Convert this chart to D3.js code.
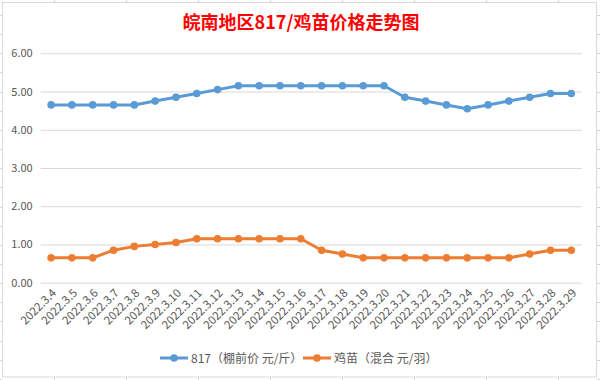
<!DOCTYPE html>
<html><head><meta charset="utf-8">
<script src="https://cdn.jsdelivr.net/npm/d3@7"></script>
<style>html,body{margin:0;padding:0;background:#fff;overflow:hidden}</style>
</head><body>
<script>
const categories = ["2022.3.4","2022.3.5","2022.3.6","2022.3.7","2022.3.8","2022.3.9","2022.3.10","2022.3.11","2022.3.12","2022.3.13","2022.3.14","2022.3.15","2022.3.16","2022.3.17","2022.3.18","2022.3.19","2022.3.20","2022.3.21","2022.3.22","2022.3.23","2022.3.24","2022.3.25","2022.3.26","2022.3.27","2022.3.28","2022.3.29"];
const price817 = [4.65,4.65,4.65,4.65,4.65,4.75,4.85,4.95,5.05,5.15,5.15,5.15,5.15,5.15,5.15,5.15,5.15,4.85,4.75,4.65,4.55,4.65,4.75,4.85,4.95,4.95];
const chickPrice = [0.65,0.65,0.65,0.85,0.95,1.0,1.05,1.15,1.15,1.15,1.15,1.15,1.15,0.85,0.75,0.65,0.65,0.65,0.65,0.65,0.65,0.65,0.65,0.75,0.85,0.85];
const yTicks = [0,1,2,3,4,5,6];
const seriesNames = ["817（棚前价 元/斤）","鸡苗（混合 元/羽）"];
const colors = ["#5b9bd5","#ed7d31"];
const title = "皖南地区817/鸡苗价格走势图";

const W = 600, H = 380;
const svg = d3.select("body").append("svg").attr("width", W).attr("height", H);
const font = "'Noto Sans CJK SC','Noto Sans',sans-serif";

// spreadsheet grid peeking outside chart frame
const sheet = svg.append("g").attr("stroke", "#d4d4d4").attr("stroke-width", 1);
for (let x = 54; x < W; x += 72) {
  sheet.append("line").attr("x1", x + 0.5).attr("x2", x + 0.5).attr("y1", 0).attr("y2", 2);
  sheet.append("line").attr("x1", x + 0.5).attr("x2", x + 0.5).attr("y1", 377).attr("y2", H);
}
for (let y = 15; y < H; y += 19.15) {
  const yy = Math.round(y) + 0.5;
  sheet.append("line").attr("x1", 0).attr("x2", 2).attr("y1", yy).attr("y2", yy);
  sheet.append("line").attr("x1", 597).attr("x2", W).attr("y1", yy).attr("y2", yy);
}
// chart frame
svg.append("rect").attr("x", 2.5).attr("y", 2.5).attr("width", 594).attr("height", 374.5)
  .attr("fill", "#fff").attr("stroke", "#d9d9d9");

const x = d3.scaleBand().domain(categories).range([40.7, 581.7]);
const y = d3.scaleLinear().domain([0, 6]).range([282.7, 53.3]);
const cx = d => x(d) + x.bandwidth() / 2;

// gridlines
const yAxis = d3.axisLeft(y).tickValues(yTicks).tickFormat(d3.format(".2f"))
  .tickSize(-(581.7 - 40.7)).tickPadding(8);
const ga = svg.append("g").attr("transform", "translate(40.7,0)").call(yAxis);
ga.select(".domain").remove();
ga.selectAll(".tick line").attr("stroke", "#d9d9d9");
ga.selectAll(".tick text").attr("fill", "#595959").attr("font-size", 11).attr("font-family", font);

// x axis labels
const xAxis = d3.axisBottom(x).tickSize(0).tickPadding(0);
const gx = svg.append("g").attr("transform", "translate(0,282.7)").call(xAxis);
gx.select(".domain").remove();
gx.selectAll(".tick text")
  .attr("fill", "#595959").attr("font-size", 11.5).attr("font-family", font)
  .attr("text-anchor", "end").attr("dy", 0)
  .attr("transform", "translate(6,11) rotate(-45)");

// series
const series = [price817, chickPrice];
series.forEach((vals, i) => {
  const data = categories.map((c, k) => ({c, v: vals[k]}));
  const line = d3.line().x(d => cx(d.c)).y(d => y(d.v));
  svg.append("path").datum(data).attr("d", line).attr("fill", "none")
    .attr("stroke", colors[i]).attr("stroke-width", 3).attr("stroke-linejoin", "round");
  svg.append("g").selectAll("circle").data(data).join("circle")
    .attr("cx", d => cx(d.c)).attr("cy", d => y(d.v)).attr("r", 3.8).attr("fill", colors[i]);
});

// title
svg.append("text").attr("x", 301).attr("y", 29).attr("text-anchor", "middle")
  .attr("fill", "#ff0000").attr("font-size", 18).attr("font-weight", "bold")
  .attr("font-family", "'Noto Sans CJK SC',sans-serif").text(title);

// legend
const legX = [160, 303];
seriesNames.forEach((n, i) => {
  const g = svg.append("g").attr("transform", `translate(${legX[i]},358)`);
  g.append("line").attr("x1", 0).attr("x2", 28).attr("y1", 0).attr("y2", 0)
    .attr("stroke", colors[i]).attr("stroke-width", 3);
  g.append("circle").attr("cx", 14).attr("cy", 0).attr("r", 3.8).attr("fill", colors[i]);
  g.append("text").attr("x", 31).attr("y", 4.5).attr("fill", "#595959")
    .attr("font-size", 12).attr("font-family", font).text(n);
});
</script>
</body></html>
